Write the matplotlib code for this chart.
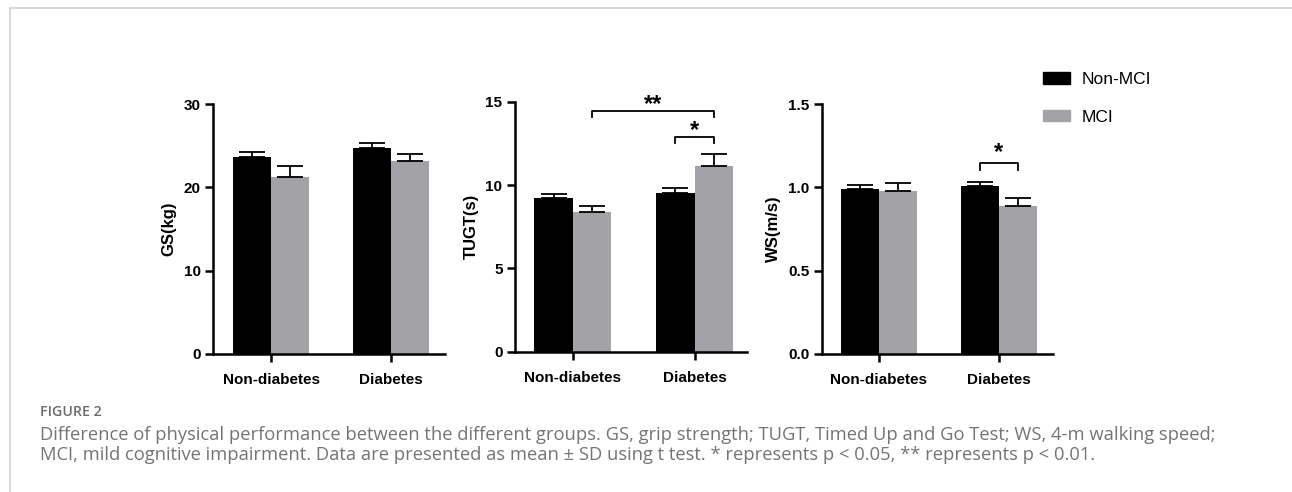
import matplotlib.pyplot as plt
from matplotlib.lines import Line2D
import numpy as np

plt.rcParams['font.family'] = ['Liberation Sans', 'DejaVu Sans']

groups = ['Non-diabetes', 'Diabetes']
series = ['Non-MCI', 'MCI']
colors = ['#000000', '#a3a3a7']

gs_mean = [[23.7, 24.7], [21.3, 23.2]]
gs_sd = [[0.6, 0.6], [1.3, 0.8]]
tugt_mean = [[9.2, 9.5], [8.4, 11.15]]
tugt_sd = [[0.28, 0.34], [0.34, 0.7]]
ws_mean = [[0.99, 1.01], [0.98, 0.89]]
ws_sd = [[0.022, 0.022], [0.046, 0.044]]

panels = [
    dict(mean=gs_mean, sd=gs_sd, label='GS(kg)', ylim=30, ticks=[0, 10, 20, 30],
         fmt='{:.0f}', rect=[0.1649, 0.2805, 0.1796, 0.508], xlim=(-0.483, 1.45)),
    dict(mean=tugt_mean, sd=tugt_sd, label='TUGT(s)', ylim=15, ticks=[0, 5, 10, 15],
         fmt='{:.0f}', rect=[0.3986, 0.2852, 0.1796, 0.508], xlim=(-0.475, 1.43)),
    dict(mean=ws_mean, sd=ws_sd, label='WS(m/s)', ylim=1.5, ticks=[0, 0.5, 1.0, 1.5],
         fmt='{:.1f}', rect=[0.6362, 0.2805, 0.1788, 0.508], xlim=(-0.475, 1.45)),
]

W, H = 1292, 492
fig = plt.figure(figsize=(W / 100, H / 100), dpi=100, facecolor='white')

x = np.arange(len(groups))
bw = 0.317
axes = []
for p in panels:
    ax = fig.add_axes(p['rect'])
    for i, (m, s) in enumerate(zip(p['mean'], p['sd'])):
        pos = x + (i - 0.5) * bw
        ax.bar(pos, m, width=bw, color=colors[i], edgecolor='none', zorder=2)
        ax.errorbar(pos, m, yerr=[np.zeros(len(s)), s], fmt='none', ecolor='black',
                    elinewidth=1.3, capsize=9.5, capthick=1.3, zorder=3)
    ax.set_xlim(*p['xlim'])
    ax.set_ylim(0, p['ylim'])
    ax.set_yticks(p['ticks'])
    ax.set_yticklabels([p['fmt'].format(t) for t in p['ticks']])
    ax.set_xticks(x)
    ax.set_xticklabels(groups)
    ax.set_ylabel(p['label'], fontsize=12, fontweight='bold', labelpad=5)
    for sp in ['top', 'right']:
        ax.spines[sp].set_visible(False)
    for sp in ['left', 'bottom']:
        ax.spines[sp].set_linewidth(1.8)
    ax.tick_params(width=1.8, length=6, labelsize=11, pad=3)
    for lab in ax.get_xticklabels() + ax.get_yticklabels():
        lab.set_fontweight('bold')
    ax.tick_params(axis='x', pad=8)
    axes.append(ax)


def bracket(ax, x1, x2, y, drop, star, ystar):
    ax.plot([x1, x1, x2, x2], [y - drop, y, y, y - drop], color='black', lw=1.3,
            clip_on=False, zorder=4)
    ax.text((x1 + x2) / 2, ystar, star, ha='center', va='center', fontsize=17,
            fontweight='bold', clip_on=False)


# TUGT brackets
bracket(axes[1], 0 + bw / 2, 1 + bw / 2, 14.44, 0.38, '**', 14.85)
bracket(axes[1], 1 - bw / 2, 1 + bw / 2, 12.86, 0.36, '*', 13.25)
# WS bracket
bracket(axes[2], 1 - bw / 2, 1 + bw / 2, 1.144, 0.04, '*', 1.21)

# legend
handles = [plt.Rectangle((0, 0), 1, 1, color=c) for c in colors]
fig.legend(handles, series, loc='upper left', bbox_to_anchor=(1043 / W, 1 - 72 / H),
           frameon=False, fontsize=12.5, handlelength=1.55, handleheight=0.65,
           handletextpad=0.7, labelspacing=1.3, borderaxespad=0, borderpad=0)

# page frame lines
fig.add_artist(Line2D([9.5 / W, 1], [1 - 7.5 / H, 1 - 7.5 / H], color='#d2d2d2', lw=1.2))
fig.add_artist(Line2D([9.5 / W, 9.5 / W], [0, 1 - 7.5 / H], color='#d2d2d2', lw=1.2))

# caption
cap_font = ['Open Sans', 'DejaVu Sans']
fig.text(40 / W, 1 - 412 / H, 'FIGURE 2', fontsize=10.2, color='#6a6a6a',
         fontweight='semibold', family=cap_font, va='center', ha='left')
line1 = fig.text(40 / W, 1 - 435 / H,
                 'Difference of physical performance between the different groups. GS, grip strength; '
                 'TUGT, Timed Up and Go Test; WS, 4-m walking speed;',
                 fontsize=11, color='#747474', family=cap_font, va='center', ha='left')
line2 = fig.text(40 / W, 1 - 455 / H,
                 'MCI, mild cognitive impairment. Data are presented as mean \u00b1 SD using t test. '
                 '* represents p < 0.05, ** represents p < 0.01.',
                 fontsize=11, color='#747474', family=cap_font, va='center', ha='left')

# fit caption line 1 to its width in the reference
r = fig.canvas.get_renderer()
wpx = line1.get_window_extent(r).width
size = 11 * 1178 / wpx
line1.set_fontsize(size)
line2.set_fontsize(size)

fig.savefig('out.png', dpi=100, facecolor='white')
